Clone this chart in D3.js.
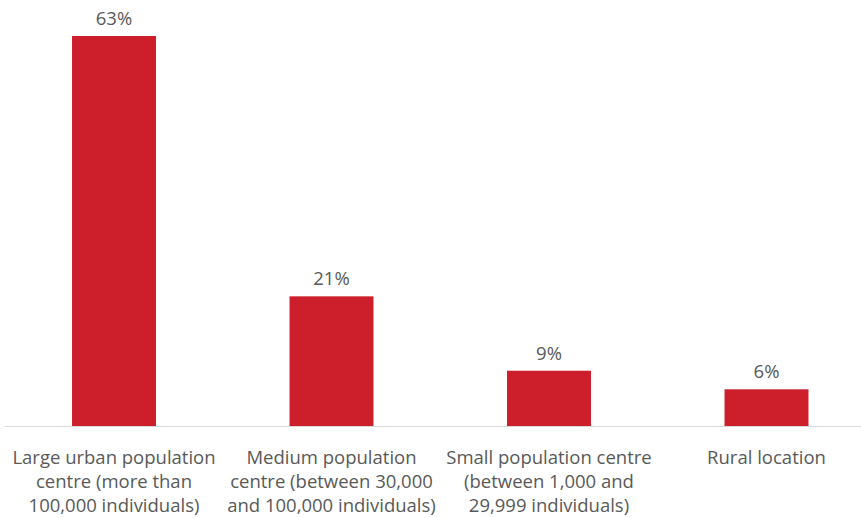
<html>
<head>
<script src="https://d3js.org/d3.v7.min.js"></script>
<style>
  body { margin: 0; background: #fff; }
  text { font-family: "Open Sans", Lato, sans-serif; fill: #595959; }
</style>
</head>
<body>
<script>
const categories = [
  ["Large urban population", "centre (more than", "100,000 individuals)"],
  ["Medium population", "centre (between 30,000", "and 100,000 individuals)"],
  ["Small population centre", "(between 1,000 and", "29,999 individuals)"],
  ["Rural location"]
];
const values = [63, 21, 9, 6];

const W = 861, H = 518;
const base = 426.5;

const svg = d3.select("body").append("svg").attr("width", W).attr("height", H);

const x = d3.scaleBand().domain(d3.range(values.length))
  .range([5.25, 875.25]).paddingInner(0.614).paddingOuter(0.307);
const y = d3.scaleLinear().domain([0, 63]).range([base, 36]);

svg.selectAll("rect.bar").data(values).join("rect")
  .attr("class", "bar")
  .attr("x", (d, i) => x(i))
  .attr("width", x.bandwidth())
  .attr("y", d => y(d))
  .attr("height", d => base - y(d))
  .attr("fill", "#cd1f2b");

svg.append("line")
  .attr("x1", 5).attr("x2", W).attr("y1", base).attr("y2", base)
  .attr("stroke", "#d9d9d9").attr("stroke-width", 1);

svg.selectAll("text.val").data(values).join("text")
  .attr("class", "val")
  .attr("x", (d, i) => x(i) + x.bandwidth() / 2)
  .attr("y", d => y(d) - 11)
  .attr("text-anchor", "middle")
  .attr("font-size", 18.5)
  .text(d => d + "%");

const lab = svg.selectAll("text.cat").data(categories).join("text")
  .attr("class", "cat")
  .attr("text-anchor", "middle")
  .attr("font-size", 18.5);
lab.selectAll("tspan").data((d, i) => d.map(s => [s, i])).join("tspan")
  .attr("x", d => x(d[1]) + x.bandwidth() / 2)
  .attr("y", (d, j) => 464 + j * 24)
  .text(d => d[0]);
</script>
</body>
</html>
